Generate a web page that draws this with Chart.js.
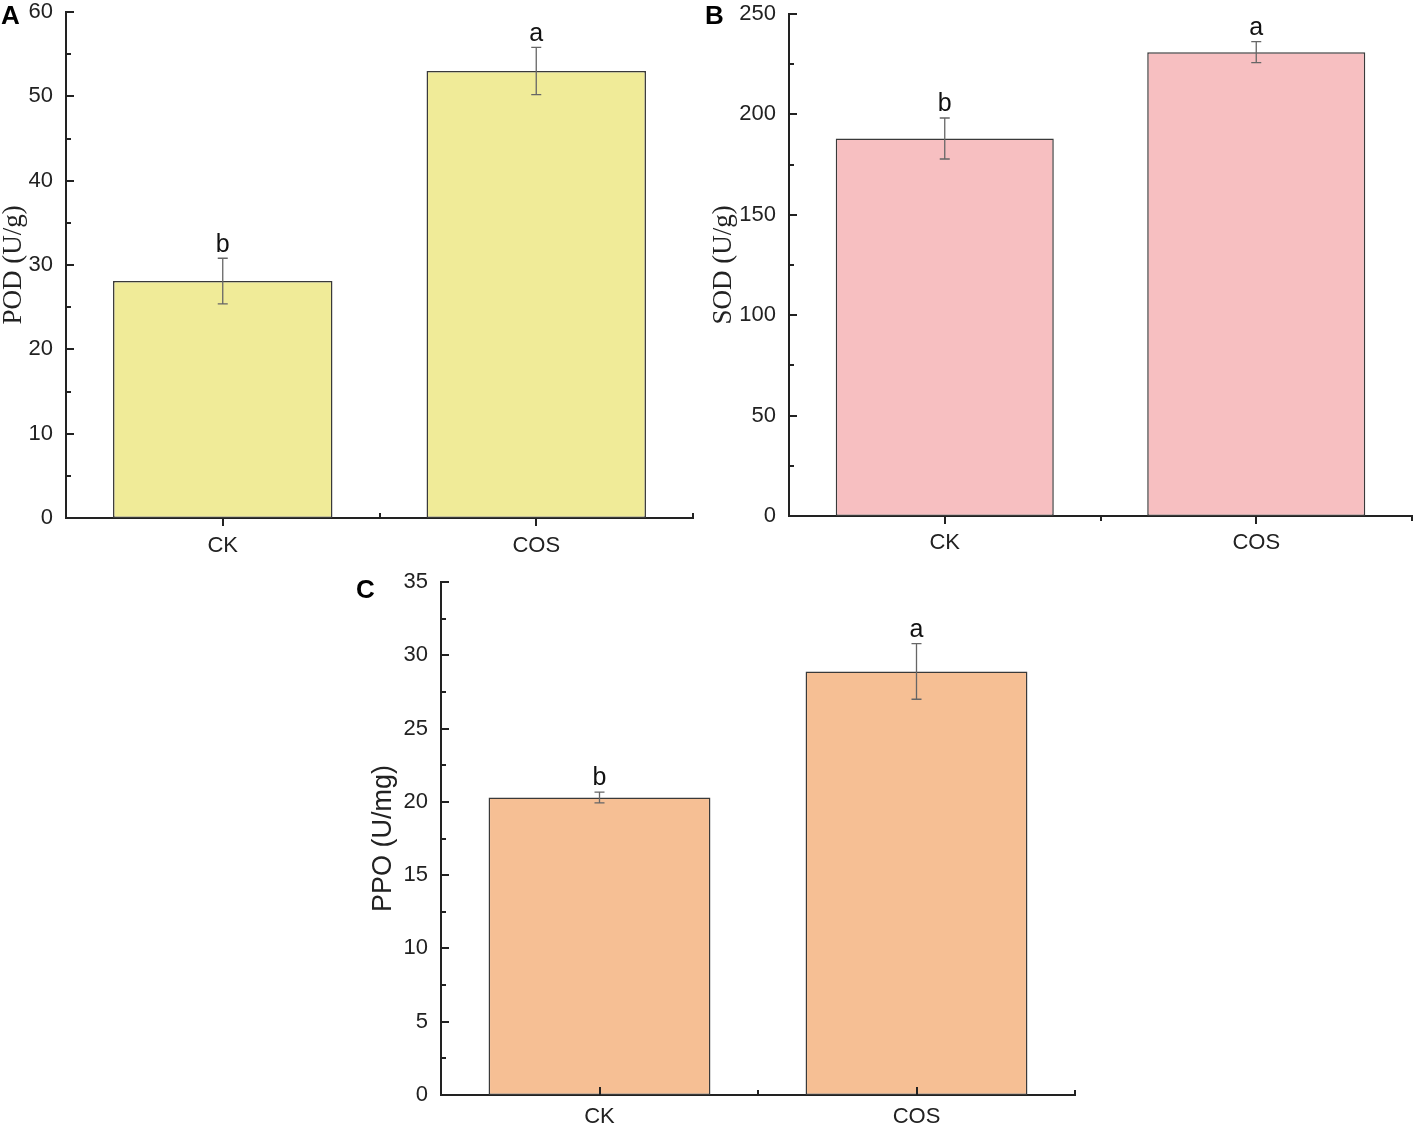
<!DOCTYPE html>
<html>
<head>
<meta charset="utf-8">
<script src="https://cdn.jsdelivr.net/npm/chart.js@4.4.1/dist/chart.umd.min.js"></script>
<style>
    body { margin: 0; background: #fff; width: 1414px; height: 1125px; position: relative; overflow: hidden; }
    .panel { position: absolute; }
</style>
</head>
<body>
<div class="panel" style="left:0;top:0;width:710px;height:565px"><canvas id="chartA"></canvas></div>
<div class="panel" style="left:700px;top:0;width:714px;height:565px"><canvas id="chartB"></canvas></div>
<div class="panel" style="left:350px;top:565px;width:750px;height:560px"><canvas id="chartC"></canvas></div>
<script>
const categories = ['CK', 'COS'];
const groupLetters = ['b', 'a'];

const podValues = [28.1, 53.0];
const podErrors = [2.7, 2.8];

const sodValues = [188.0, 231.0];
const sodErrors = [10.2, 5.2];

const ppoValues = [20.3, 28.9];
const ppoErrors = [0.37, 1.9];

const sansFont = '"Liberation Sans", Arial, sans-serif';
const serifFont = '"Liberation Serif", "Times New Roman", serif';

// ticks, error bars, significance letters and the panel letter
const decorPlugin = {
    id: 'decor',
    afterDatasetsDraw(chart) {
        const opts = chart.options.plugins.decor;
        const ctx = chart.ctx;
        const area = chart.chartArea;
        const yScale = chart.scales.y;
        const xScale = chart.scales.x;

        ctx.save();
        ctx.strokeStyle = '#222';
        ctx.lineWidth = 2;

        // y ticks, pointing into the plot
        for (let v = yScale.min; v <= yScale.max + 1e-9; v += opts.step / 2) {
            const y = Math.round(yScale.getPixelForValue(v));
            const isMajor = Math.abs((v / opts.step) - Math.round(v / opts.step)) < 1e-6;
            const len = isMajor ? 8 : 5;
            ctx.beginPath();
            ctx.moveTo(area.left, y);
            ctx.lineTo(area.left + len, y);
            ctx.stroke();
        }

        // x ticks: category centres and the boundaries between them
        const catDir = opts.catTicksUp ? -1 : 1;
        const midDir = opts.midTicksUp ? -1 : 1;
        categories.forEach((c, i) => {
            const x = Math.round(xScale.getPixelForValue(i));
            ctx.beginPath();
            ctx.moveTo(x, area.bottom);
            ctx.lineTo(x, area.bottom + catDir * 8);
            ctx.stroke();
        });
        for (let i = 1; i <= categories.length; i++) {
            const x = Math.round(xScale.getPixelForValue(i - 0.5));
            ctx.beginPath();
            ctx.moveTo(x, area.bottom);
            ctx.lineTo(x, area.bottom + midDir * 5);
            ctx.stroke();
        }

        // error bars
        const meta = chart.getDatasetMeta(0);
        ctx.strokeStyle = '#666';
        ctx.lineWidth = 1.3;
        meta.data.forEach((bar, i) => {
            const v = opts.values[i];
            const e = opts.errors[i];
            const yTop = yScale.getPixelForValue(v + e);
            const yBot = yScale.getPixelForValue(v - e);
            ctx.beginPath();
            ctx.moveTo(bar.x, yTop);
            ctx.lineTo(bar.x, yBot);
            ctx.moveTo(bar.x - 5, yTop);
            ctx.lineTo(bar.x + 5, yTop);
            ctx.moveTo(bar.x - 5, yBot);
            ctx.lineTo(bar.x + 5, yBot);
            ctx.stroke();

            ctx.fillStyle = '#111';
            ctx.font = '25px ' + sansFont;
            ctx.textAlign = 'center';
            ctx.textBaseline = 'bottom';
            ctx.fillText(groupLetters[i], bar.x, yTop - 1);
        });

        // panel letter
        ctx.fillStyle = '#000';
        ctx.font = 'bold 26px ' + sansFont;
        ctx.textAlign = 'left';
        ctx.textBaseline = 'middle';
        ctx.fillText(opts.letter, opts.letterX, opts.letterY);
        ctx.restore();
    }
};

function makePanel(canvasId, values, errors, color, p) {
    const canvas = document.getElementById(canvasId);
    return new Chart(canvas, {
        type: 'bar',
        data: {
            labels: categories,
            datasets: [{
                data: values,
                backgroundColor: color,
                borderColor: '#3a3a3a',
                borderWidth: 1.5,
                borderSkipped: false,
                barPercentage: 0.7,
                categoryPercentage: 1.0,
            }],
        },
        options: {
            responsive: true,
            maintainAspectRatio: false,
            animation: false,
            layout: { padding: p.padding },
            plugins: {
                legend: { display: false },
                tooltip: { enabled: false },
                decor: {
                    values, errors,
                    step: p.step,
                    letter: p.letter, letterX: p.letterX, letterY: p.letterY,
                    catTicksUp: p.catTicksUp, midTicksUp: p.midTicksUp,
                },
            },
            scales: {
                x: {
                    grid: { display: false },
                    border: { display: true, color: '#222', width: 2 },
                    ticks: { color: '#222', font: { family: sansFont, size: 22 }, padding: p.xPad },
                    afterFit: scale => {
                        scale.height = p.xHeight;
                        scale.paddingLeft = 0;
                        scale.paddingRight = 0;
                    },
                },
                y: {
                    min: 0,
                    max: p.max,
                    grid: { display: false },
                    border: { display: true, color: '#222', width: 2 },
                    ticks: { stepSize: p.step, color: '#222', font: { family: sansFont, size: 22 }, padding: 5 },
                    title: {
                        display: true,
                        text: p.title,
                        color: '#222',
                        font: { family: p.titleFont, size: 27, lineHeight: 1 },
                        padding: 0,
                    },
                    afterFit: scale => {
                        scale.width = p.yWidth;
                        scale.paddingTop = 0;
                        scale.paddingBottom = 0;
                    },
                },
            },
        },
        plugins: [decorPlugin],
    });
}

makePanel('chartA', podValues, podErrors, '#F0EB98', {
    max: 60, step: 10, title: 'POD (U/g)', titleFont: serifFont,
    padding: { left: 0, top: 12, right: 17, bottom: 0 },
    yWidth: 66, xHeight: 47, xPad: 7,
    letter: 'A', letterX: 1, letterY: 17,
    catTicksUp: false, midTicksUp: true,
});

makePanel('chartB', sodValues, sodErrors, '#F7BFC1', {
    max: 250, step: 50, title: 'SOD (U/g)', titleFont: serifFont,
    padding: { left: 10, top: 14, right: 2, bottom: 0 },
    yWidth: 79, xHeight: 49, xPad: 6,
    letter: 'B', letterX: 5, letterY: 17,
    catTicksUp: false, midTicksUp: false,
});

makePanel('chartC', ppoValues, ppoErrors, '#F6BF94', {
    max: 35, step: 5, title: 'PPO (U/mg)', titleFont: sansFont,
    padding: { left: 20, top: 17, right: 25, bottom: 0 },
    yWidth: 71, xHeight: 30, xPad: 1,
    letter: 'C', letterX: 6, letterY: 26,
    catTicksUp: true, midTicksUp: true,
});
</script>
</body>
</html>
